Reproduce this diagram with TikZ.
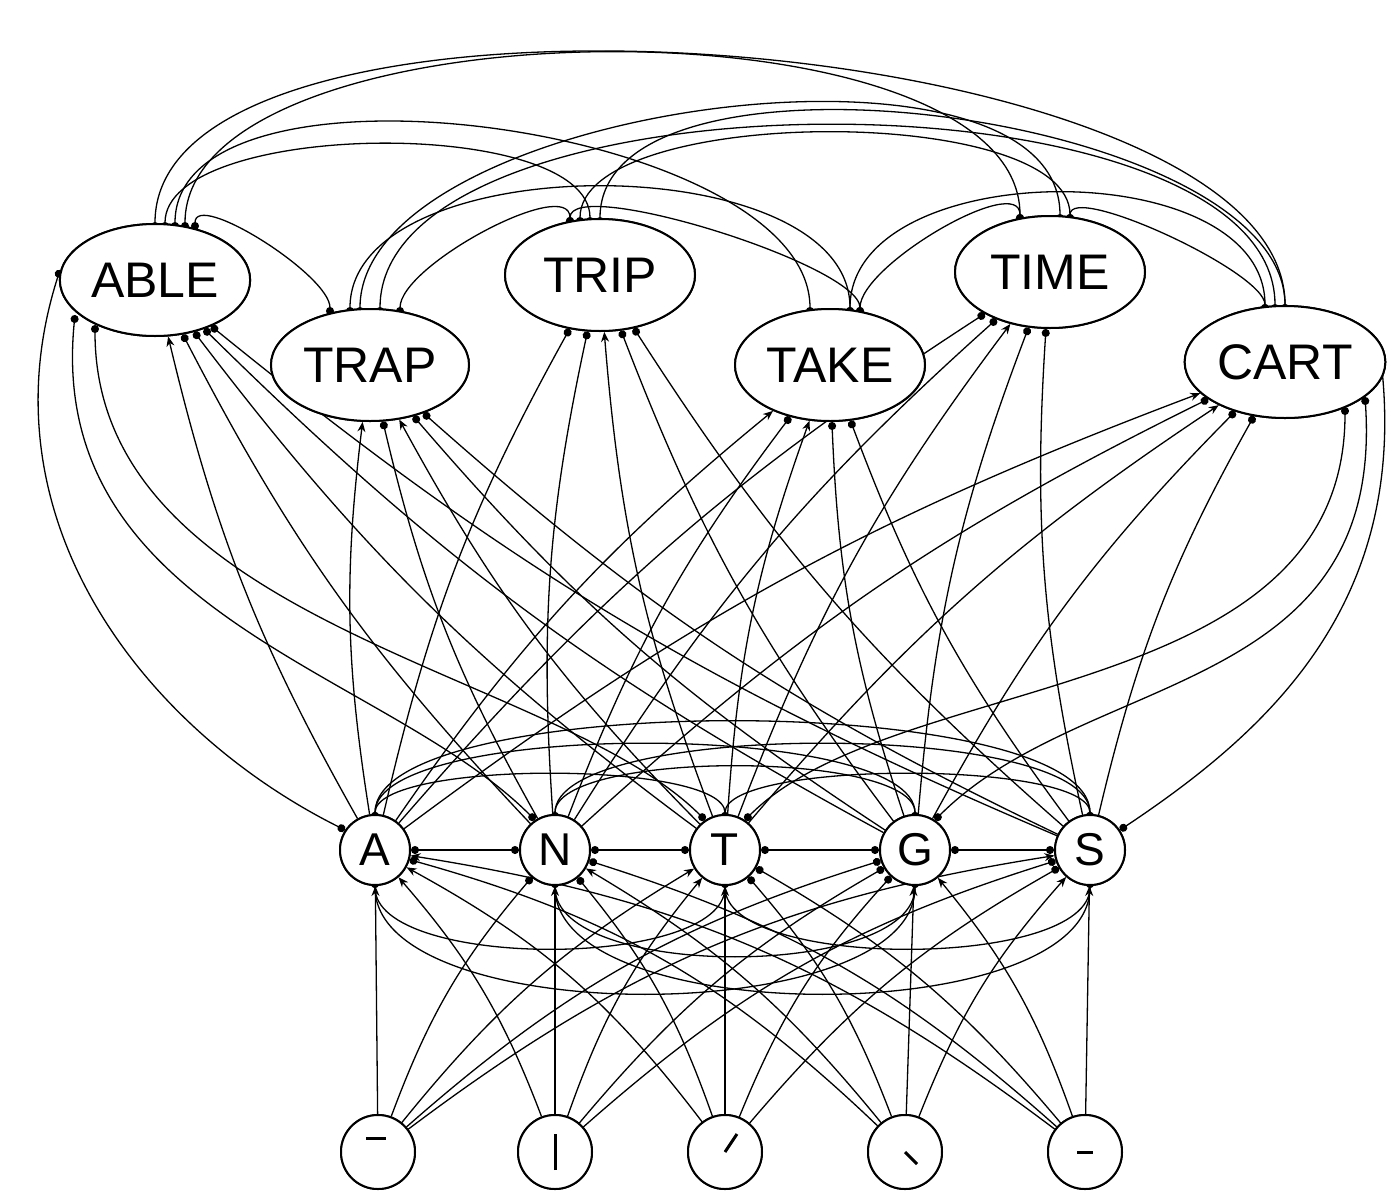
\documentclass[tikz,border=0pt]{standalone}
\usepackage{fontspec}
\setmainfont{Liberation Sans}
\usetikzlibrary{arrows.meta,shapes.geometric}
\begin{document}
\begin{tikzpicture}[x=1pt,y=-1pt,
 word/.style={ellipse,draw,line width=2pt,minimum width=190pt,minimum height=112pt,fill=white,font=\fontsize{50}{50}\selectfont},
 letter/.style={circle,draw,line width=2pt,minimum size=70pt,inner sep=0pt,fill=white,font=\fontsize{46}{46}\selectfont},
 feat/.style={circle,draw,line width=2pt,minimum size=74pt,fill=white},
 exc/.style={-{Stealth[length=10pt,width=8pt]},line width=1.3pt},
 inh/.style={-{Circle[length=8pt]},line width=1.3pt},
 inh2/.style={{Circle[length=8pt]}-{Circle[length=8pt]},line width=1.3pt}]
\useasboundingbox (0,0) rectangle (1398,1200);
\coordinate (ABLEc) at (155,280);\coordinate (TRIPc) at (600,275);\coordinate (TIMEc) at (1050,272);
\coordinate (TRAPc) at (370,365);\coordinate (TAKEc) at (830,365);\coordinate (CARTc) at (1285,362);
\coordinate (Ac) at (375,850);\coordinate (Nc) at (555,850);\coordinate (Tc) at (725,850);\coordinate (Gc) at (915,850);\coordinate (Sc) at (1090,850);
\coordinate (F1c) at (378,1152);\coordinate (F2c) at (555,1152);\coordinate (F3c) at (725,1152);\coordinate (F4c) at (905,1152);\coordinate (F5c) at (1085,1152);
% word -> word inhibition
\foreach \p/\q/\h/\dx in {ABLEc/TRAPc/40/40,TRAPc/TRIPc/50/30,TRIPc/TAKEc/50/-30,TAKEc/TIMEc/50/30,TIMEc/CARTc/40/20,
 ABLEc/TRIPc/110/10,ABLEc/TAKEc/190/20,ABLEc/TIMEc/230/30,ABLEc/CARTc/285/0,TRAPc/TAKEc/170/-20,TRAPc/TIMEc/210/-10,TRAPc/CARTc/250/10,
 TRIPc/TIMEc/120/-20,TRIPc/CARTc/200/0,TAKEc/CARTc/160/20}{
 \draw[inh2] ([xshift=\dx pt,yshift=50pt]\p) .. controls +(0,-\h) and +(0,-\h) .. ([xshift=-\dx pt,yshift=50pt]\q);}
% word feedback around sides
\draw[inh2] ([xshift=-95pt,yshift=10pt]ABLEc) .. controls +(-80,250) and +(-200,-100) .. ([xshift=-30pt,yshift=20pt]Ac);
\draw[inh2] ([xshift=-80pt,yshift=-35pt]ABLEc) .. controls +(-30,300) and +(-150,-150) .. ([xshift=-20pt,yshift=30pt]Nc);
\draw[inh2] ([xshift=-60pt,yshift=-45pt]ABLEc) .. controls +(0,300) and +(-150,-150) .. ([xshift=-20pt,yshift=30pt]Tc);
\draw[inh2] ([xshift=95pt,yshift=10pt]CARTc) .. controls +(30,250) and +(150,-100) .. ([xshift=30pt,yshift=20pt]Sc);
\draw[inh2] ([xshift=80pt,yshift=-35pt]CARTc) .. controls +(20,300) and +(150,-150) .. ([xshift=20pt,yshift=30pt]Gc);
\draw[inh2] ([xshift=60pt,yshift=-45pt]CARTc) .. controls +(0,300) and +(150,-150) .. ([xshift=20pt,yshift=30pt]Tc);
\node[word] (ABLE) at (ABLEc) {ABLE};
\node[word] (TRIP) at (TRIPc) {TRIP};
\node[word] (TIME) at (TIMEc) {TIME};
\node[word] (TRAP) at (TRAPc) {TRAP};
\node[word] (TAKE) at (TAKEc) {TAKE};
\node[word] (CART) at (CARTc) {CART};
\foreach \l in {A,N,T,G,S}{\node[letter] (\l) at (\l c) {\l};}
\foreach \i in {1,...,5}{\node[feat] (F\i) at (F\i c) {};}
% feature -> letter
\foreach \f/\l/\s/\bb in {1/A/exc/0,1/N/inh/10,1/T/exc/10,1/G/inh/12,1/S/exc/14,
 2/A/exc/-10,2/N/exc/0,2/T/exc/10,2/G/inh/10,2/S/inh/12,
 3/A/exc/-12,3/N/inh/-10,3/T/exc/0,3/G/inh/10,3/S/inh/10,
 4/A/inh/-14,4/N/exc/-10,4/T/inh/-10,4/G/exc/0,4/S/exc/10,
 5/A/exc/-14,5/N/inh/-12,5/T/inh/-10,5/G/exc/-10,5/S/exc/0}{
 \draw[\s] (F\f) to[bend left=\bb] (\l);}
% letter-letter inhibition
\foreach \p/\q in {A/N,N/T,T/G,G/S}{\draw[inh2] (\p) -- (\q);}
\foreach \p/\q/\h in {A/T/60,N/G/70,T/S/60,A/G/100,N/S/100,A/S/130}{
 \draw[inh2] ([yshift=30pt]\p c) .. controls +(0,-\h) and +(0,-\h) .. ([yshift=30pt]\q c);}
\foreach \p/\q/\h in {A/T/90,N/G/100,T/S/90,A/G/150,N/S/150}{
 \draw[inh2] ([yshift=-30pt]\p c) .. controls +(0,\h) and +(0,\h) .. ([yshift=-30pt]\q c);}
% letter -> word
\foreach \l/\w/\s in {A/ABLE/exc,A/TRAP/exc,A/TAKE/exc,A/CART/exc,A/TRIP/inh,A/TIME/inh,
 N/ABLE/inh,N/TRIP/inh,N/TIME/inh,N/TRAP/inh,N/TAKE/inh,N/CART/inh,
 T/ABLE/inh,T/TRIP/exc,T/TIME/exc,T/TRAP/exc,T/TAKE/exc,T/CART/exc,
 G/ABLE/inh,G/TRIP/inh,G/TIME/inh,G/TRAP/inh,G/TAKE/inh,G/CART/inh,
 S/ABLE/inh,S/TRIP/inh,S/TIME/inh,S/TRAP/inh,S/TAKE/inh,S/CART/inh}{
 \draw[\s] (\l) to[bend left=8] (\w);}
% redraw nodes on top
\node[word] at (ABLEc) {ABLE};
\node[word] at (TRIPc) {TRIP};
\node[word] at (TIMEc) {TIME};
\node[word] at (TRAPc) {TRAP};
\node[word] at (TAKEc) {TAKE};
\node[word] at (CARTc) {CART};
\foreach \l in {A,N,T,G,S}{\node[letter] at (\l c) {\l};}
\foreach \i in {1,...,5}{\node[feat] at (F\i c) {};}
% feature glyphs
\draw[line width=3pt] ([xshift=-12pt,yshift=14pt]F1.center) -- ([xshift=8pt,yshift=14pt]F1.center);
\draw[line width=3pt] ([yshift=-18pt]F2.center) -- ([yshift=18pt]F2.center);
\draw[line width=3pt] (F3.center) -- ([xshift=12pt,yshift=18pt]F3.center);
\draw[line width=3pt] (F4.center) -- ([xshift=12pt,yshift=-12pt]F4.center);
\draw[line width=3pt] ([xshift=-8pt]F5.center) -- ([xshift=8pt]F5.center);
\end{tikzpicture}
\end{document}
